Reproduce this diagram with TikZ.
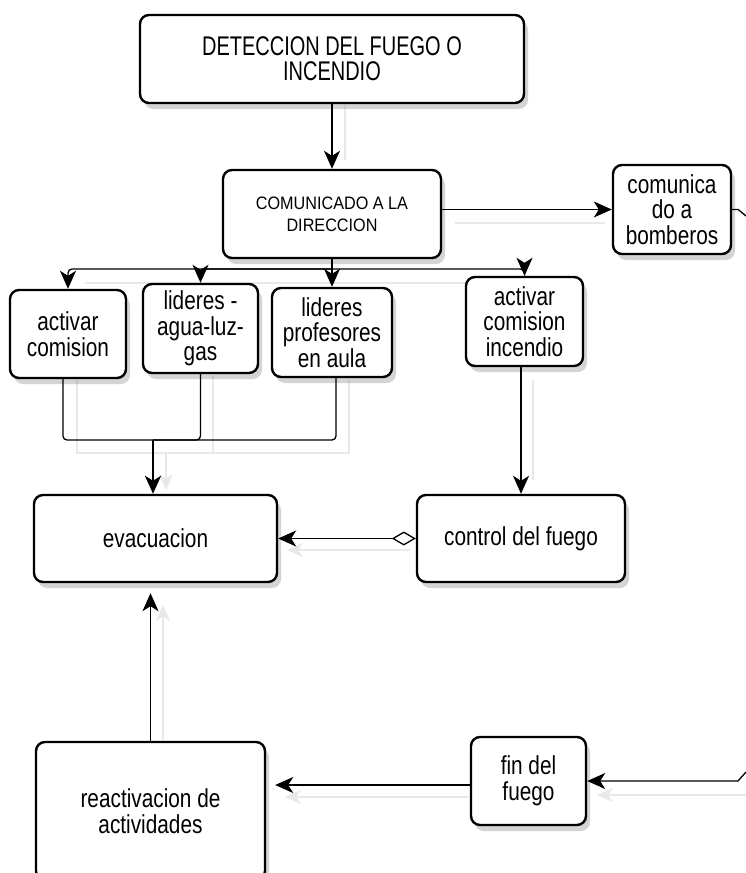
\documentclass[tikz,border=0pt]{standalone}
\usepackage{fontspec}
\setmainfont{Liberation Sans}[FakeStretch=0.8]
\newfontfamily\detf{Liberation Sans}[FakeStretch=0.74]
\newfontfamily\comf{Liberation Sans}[FakeStretch=0.9]
\usetikzlibrary{arrows.meta,shadows,calc}
\begin{document}
\begin{tikzpicture}[x=1pt,y=-1pt,
  box/.style={draw=black, line width=2.4pt, rounded corners=9pt, fill=white,
    drop shadow={opacity=0.3, shadow xshift=4pt, shadow yshift=-6pt, fill=black!55},
    align=center, inner sep=0pt, font=\fontsize{26}{25.5}\selectfont},
  arr/.style={line width=1.3pt, -{Stealth[length=18pt,width=16pt,inset=5pt]}},
  ln/.style={line width=1.3pt},
  ghost/.style={draw=black!9, line width=1.3pt},
  ghostarr/.style={draw=black!9, line width=1.3pt, -{Stealth[length=16pt,width=14pt,inset=5pt]}}
]
\useasboundingbox (0,0) rectangle (746,873);
\clip (0,0) rectangle (746,873);
\fill[white] (0,0) rectangle (746,873);

% ghost lines (faint duplicates)
\draw[ghost] (345,105) -- (345,160);
\draw[ghost] (455,223) -- (605,223);
\draw[ghost] (85,283) -- (540,283);
\draw[ghost] (77,380) -- (77,453) -- (166,453);
\draw[ghost] (213,375) -- (213,453);
\draw[ghost] (349,380) -- (349,453) -- (166,453);
\draw[ghostarr] (166,453) -- (166,490);
\draw[ghost] (533,380) -- (533,480);
\draw[ghostarr] (410,550) -- (287,550);
\draw[ghostarr] (163,740) -- (163,605);
\draw[ghostarr] (468,797) -- (285,797);
\draw[ghostarr] (746,795) -- (597,795);

% nodes
\node[box, minimum width=384, minimum height=88, font=\detf\fontsize{27}{25}\selectfont] (det) at (332,59)
  {DETECCION DEL FUEGO O\\INCENDIO};
\node[box, minimum width=218, minimum height=88, font=\comf\fontsize{18}{22}\selectfont] (com) at (332,214)
  {COMUNICADO A LA\\DIRECCION};
\node[box, minimum width=118, minimum height=89] (bomb) at (672,209.5)
  {comunica\\do a\\bomberos};
\node[box, minimum width=116, minimum height=88] (ac) at (68,334)
  {activar\\comision};
\node[box, minimum width=115, minimum height=89] (la) at (200.5,328.5)
  {lideres -\\agua-luz-\\gas};
\node[box, minimum width=120, minimum height=89] (lp) at (332,332.5)
  {lideres\\profesores\\en aula};
\node[box, minimum width=117, minimum height=89] (aci) at (524.5,321.5)
  {activar\\comision\\incendio};
\node[box, minimum width=243, minimum height=87] (evac) at (155.5,538.5)
  {evacuacion};
\node[box, minimum width=208, minimum height=87] (ctrl) at (521,538.5)
  {control del fuego};
\node[box, minimum width=229, minimum height=138] (react) at (150.5,811)
  {reactivacion de\\actividades};
\node[box, minimum width=115, minimum height=88] (fin) at (528.5,781)
  {fin del\\fuego};

\coordinate (br) at (332,269);
\coordinate (mg) at (153,440);
\coordinate (out1) at (746,216);
\coordinate (in1) at (746,772);

% connectors
\draw[arr] (det.south) -- (com.north);
\draw[arr] (com.east |- bomb.west) -- (bomb.west);
\draw[ln] (bomb.east) -- ++(6,0) -- (out1);
\draw[ln] (com.south) -- (br);
\draw[arr, rounded corners=4pt] (br) -| (ac.north);
\draw[arr, rounded corners=4pt] (br) -| (la.north);
\draw[arr] (br) -- (lp.north);
\draw[arr, rounded corners=4pt] (br) -| (aci.north);

\draw[ln, rounded corners=4pt] ([xshift=-5pt]ac.south) |- (mg);
\draw[ln, rounded corners=4pt] (la.south) |- (mg);
\draw[ln, rounded corners=4pt] ([xshift=4pt]lp.south) |- (mg);
\draw[line width=2.8pt, -{Stealth[length=18pt,width=16pt,inset=5pt]}] (mg) -- (mg |- evac.north);

\draw[arr] (aci.south -| ctrl.north) -- (ctrl.north);
\draw[line width=1.3pt, {Stealth[length=18pt,width=16pt,inset=5pt]}-{Diamond[open,length=24pt,width=14pt]}]
  (evac.east |- ctrl.west) -- (ctrl.west);
\draw[arr] (react.north) -- ([yshift=-10pt]react.north |- evac.south);
\draw[arr] (fin.west |- 0,785) -- ([xshift=9pt]react.east |- 0,785);
\draw[arr] (in1) -- (738,781) -- (fin.east);
\end{tikzpicture}
\end{document}
